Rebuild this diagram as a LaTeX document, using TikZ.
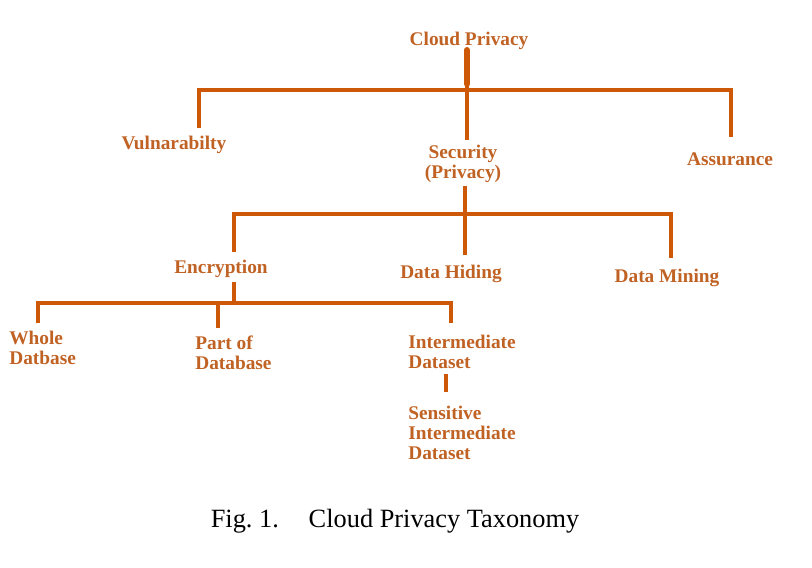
\documentclass[tikz,border=0pt]{standalone}
\usepackage{fontspec}
\setmainfont{Liberation Serif}
\usepackage{tikz}
\usetikzlibrary{positioning}
\definecolor{taxline}{RGB}{204,88,8}
\definecolor{taxtext}{RGB}{192,98,36}

\begin{document}
\begin{tikzpicture}[x=0.02cm, y=-0.02cm,
  label/.style={inner sep=0pt, text=taxtext, align=center,
    font=\fontsize{11}{11.3}\selectfont\bfseries},
  leaf/.style={label, anchor=west, align=left},
  branch/.style={draw=taxline, line width=1.8pt},
  stem/.style={draw=taxline, line width=3.4pt, line cap=round}]
\useasboundingbox (0,0) rectangle (812,568);

% Level 0: root
\node[label] (cloud) at (469,41) {Cloud Privacy};
\coordinate (cpS) at (467,50);
\coordinate (cpE) at (467,84);
\coordinate (cpJ) at (467,90);

% Level 1
\node[label] (vul) at (174,145) {Vulnarabilty};
\node[label] (sec) at (463,164) {Security\\(Privacy)};
\node[label] (ass) at (730,159) {Assurance};
\coordinate (vulN) at (199,128);
\coordinate (secN) at (467,140);
\coordinate (assN) at (731,137);

\draw[stem] (cpS) -- (cpE);
\draw[branch] (cpE) -- (cpJ);
\draw[branch] (vulN) |- (cpJ) -| (assN);
\draw[branch] (cpJ) -- (secN);

% Level 2: below Security
\node[label] (enc) at (221,269) {Encryption};
\node[label] (hid) at (451,274) {Data Hiding};
\node[label] (min) at (667,278) {Data Mining};
\coordinate (secS) at (465,186);
\coordinate (secJ) at (465,214);
\coordinate (encN) at (234,252);
\coordinate (hidN) at (465,255);
\coordinate (minN) at (671,258);

\draw[branch] (secS) -- (secJ);
\draw[branch] (encN) |- (secJ) -| (minN);
\draw[branch] (secJ) -- (hidN);

% Level 3: below Encryption
\node[leaf] (whole) at (9,348) {Whole\\Datbase};
\node[leaf] (part) at (195,353) {Part of\\Database};
\node[leaf] (inter) at (408,352) {Intermediate\\Dataset};
\coordinate (encS) at (234,282);
\coordinate (encJ) at (234,303);
\coordinate (wholeN) at (38,323);
\coordinate (partN) at (218,328);
\coordinate (interN) at (451,323);

\draw[branch] (encS) -- (encJ);
\draw[branch] (wholeN) |- (encJ) -| (interN);
\draw[branch] (partN |- encJ) -- (partN);

% Level 4
\node[leaf] (sens) at (408,433) {Sensitive\\Intermediate\\Dataset};
\coordinate (interS) at (446,374);
\coordinate (sensN) at (446,392);
\draw[branch] (interS) -- (sensN);

% Caption
\node[font=\fontsize{15}{17}\selectfont] (caption) at (395,521)
  {Fig.~1.\hspace{17pt}Cloud Privacy Taxonomy};
\end{tikzpicture}
\end{document}
